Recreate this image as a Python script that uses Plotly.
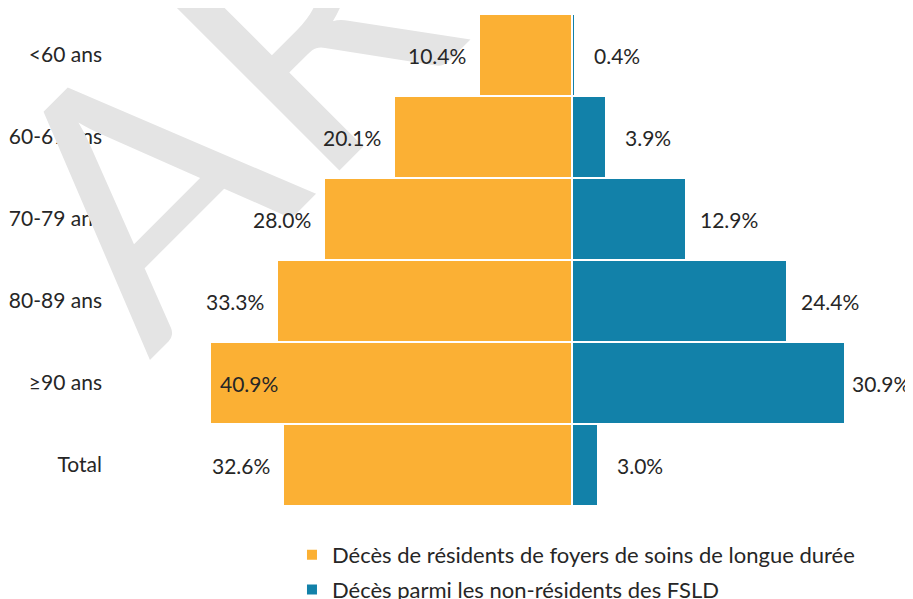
import plotly.graph_objects as go

# age groups, top to bottom
age_groups = ["<60 ans", "60-69 ans", "70-79 ans", "80-89 ans", "≥90 ans", "Total"]

# % of deaths among long-term care residents (left side)
ltc_residents = [10.4, 20.1, 28.0, 33.3, 40.9, 32.6]
# % of deaths among non-residents (right side)
non_residents = [0.4, 3.9, 12.9, 24.4, 30.9, 3.0]

ltc_name = "Décès de résidents de foyers de soins de longue durée"
non_name = "Décès parmi les non-résidents des FSLD"

ORANGE = "#FBB034"
BLUE = "#1281A9"
FONT = "Lato"
TEXT_COLOR = "#262626"
SIZE = 21

fig = go.Figure()

fig.add_trace(
    go.Bar(
        y=age_groups,
        x=[-v for v in ltc_residents],
        orientation="h",
        name=ltc_name,
        legendgroup="ltc",
        marker=dict(color=ORANGE, line=dict(color="white", width=2)),
        hoverinfo="skip",
    )
)

fig.add_trace(
    go.Bar(
        y=age_groups,
        x=non_residents,
        orientation="h",
        name=non_name,
        legendgroup="non",
        marker=dict(color=BLUE, line=dict(color="white", width=2)),
        hoverinfo="skip",
    )
)

# faint watermark in the top-left corner (only the first letters show)
fig.add_annotation(
    text="AR",
    xref="paper",
    yref="paper",
    x=0.134,
    y=0.817,
    xanchor="center",
    yanchor="middle",
    textangle=-45,
    showarrow=False,
    font=dict(family=FONT, size=350, color="#E4E4E4"),
)

# value labels
for age, v in zip(age_groups, ltc_residents):
    if v == max(ltc_residents):
        # largest bar keeps its label inside, at the far end
        fig.add_annotation(
            x=-v, y=age, text=f"{v:.1f}%", showarrow=False,
            xanchor="left", xshift=8,
            font=dict(family=FONT, size=SIZE, color=TEXT_COLOR),
        )
    else:
        fig.add_annotation(
            x=-v, y=age, text=f"{v:.1f}%", showarrow=False,
            xanchor="right", xshift=-11,
            font=dict(family=FONT, size=SIZE, color=TEXT_COLOR),
        )

for age, v in zip(age_groups, non_residents):
    if v == max(non_residents):
        shift = 5
    elif v < 5:
        shift = 17
    else:
        shift = 12
    fig.add_annotation(
        x=v, y=age, text=f"{v:.1f}%", showarrow=False,
        xanchor="left", xshift=shift,
        font=dict(family=FONT, size=SIZE, color=TEXT_COLOR),
    )

# page body adds an 8px offset, so the figure is laid out 8px smaller
# and a bit taller than the window (the overflow is simply not shown)
fig.update_layout(
    width=905,
    height=615,
    barmode="relative",
    bargap=0,
    plot_bgcolor="white",
    paper_bgcolor="white",
    margin=dict(l=99, r=0, t=6, b=117),
    font=dict(family=FONT, size=SIZE, color=TEXT_COLOR),
    xaxis=dict(
        range=[-52.49, 38.59],
        visible=False,
        fixedrange=True,
    ),
    yaxis=dict(
        categoryorder="array",
        categoryarray=age_groups,
        autorange="reversed",
        showgrid=False,
        zeroline=False,
        ticks="",
        automargin=False,
        ticklabelstandoff=4,
        tickfont=dict(family=FONT, size=SIZE, color=TEXT_COLOR),
    ),
    legend=dict(
        orientation="v",
        x=0.2295,
        y=-0.057,
        xanchor="left",
        yanchor="top",
        traceorder="grouped",
        tracegroupgap=3,
        itemwidth=30,
        font=dict(family=FONT, size=22, color=TEXT_COLOR),
    ),
    showlegend=True,
)

fig.write_html("out.html")
